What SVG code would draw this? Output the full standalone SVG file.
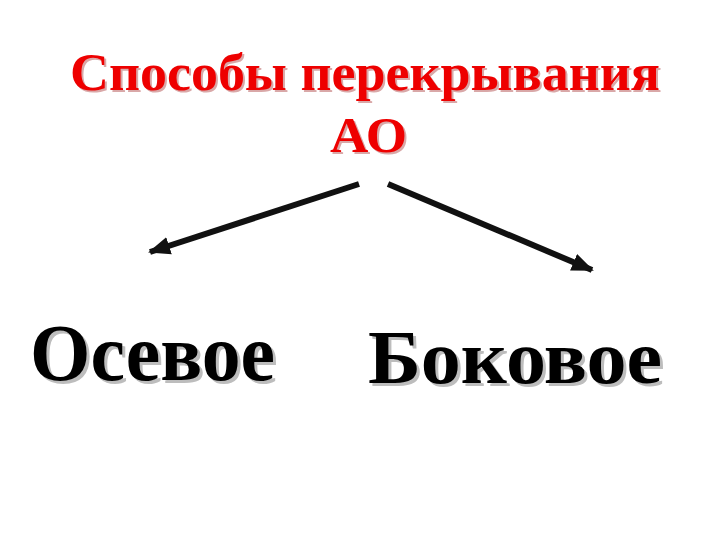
<svg xmlns="http://www.w3.org/2000/svg" width="720" height="540" viewBox="0 0 720 540">
<defs>
<style>
.t{font-family:"Liberation Serif","Times New Roman",serif;font-weight:bold}
.red{fill:#ee0000}
.blk{fill:#000}
.sh{fill:#bdbdbd}
.shr{fill:#d9a8a8}
.c{stroke:#111;stroke-width:6;fill:none}
</style>
<marker id="ah" markerUnits="userSpaceOnUse" markerWidth="24" markerHeight="22" refX="20" refY="11" orient="auto">
<path d="M0,2 L22,11 L0,20 Z" fill="#111"/>
</marker>
</defs>
<rect width="720" height="540" fill="#fff"/>
<g id="title">
<text class="t shr" x="72" y="92" font-size="52" textLength="590" lengthAdjust="spacingAndGlyphs">Способы перекрывания</text>
<text class="t red" x="70" y="90" font-size="52" textLength="590" lengthAdjust="spacingAndGlyphs">Способы перекрывания</text>
<text class="t shr" x="332" y="154" font-size="50" textLength="77" lengthAdjust="spacingAndGlyphs">АО</text>
<text class="t red" x="330" y="152" font-size="50" textLength="77" lengthAdjust="spacingAndGlyphs">АО</text>
</g>
<g id="axial">
<text class="t sh" x="33" y="383" font-size="80" textLength="245" lengthAdjust="spacingAndGlyphs">Осевое</text>
<text class="t blk" x="30" y="380" font-size="80" textLength="245" lengthAdjust="spacingAndGlyphs">Осевое</text>
</g>
<g id="lateral">
<text class="t sh" x="371" y="386" font-size="77" textLength="294" lengthAdjust="spacingAndGlyphs">Боковое</text>
<text class="t blk" x="368" y="383" font-size="77" textLength="294" lengthAdjust="spacingAndGlyphs">Боковое</text>
</g>
<g id="connectors">
<line class="c" x1="359" y1="184" x2="150" y2="252" marker-end="url(#ah)"/>
<line class="c" x1="388" y1="184" x2="592" y2="270" marker-end="url(#ah)"/>
</g>
</svg>
